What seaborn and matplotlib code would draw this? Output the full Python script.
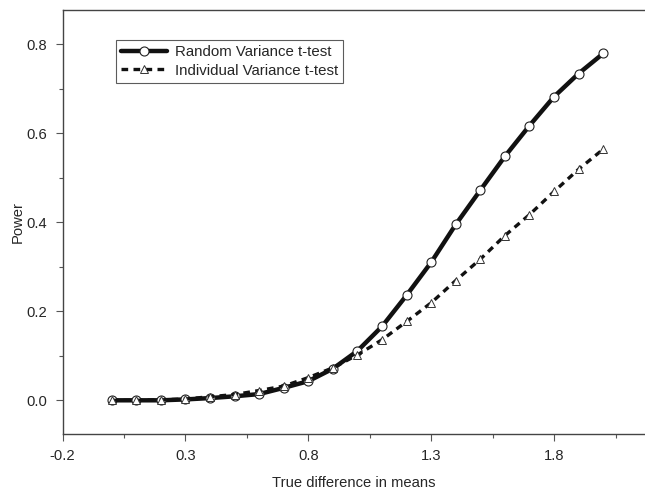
import numpy as np
import pandas as pd
import seaborn as sns
import matplotlib.pyplot as plt
from matplotlib.ticker import FixedLocator

# ── Data ───────────────────────────────────────────────────────────────────
true_diff = [0.0, 0.1, 0.2, 0.3, 0.4, 0.5, 0.6, 0.7, 0.8, 0.9, 1.0,
             1.1, 1.2, 1.3, 1.4, 1.5, 1.6, 1.7, 1.8, 1.9, 2.0]
power_random = [0.000, 0.000, 0.000, 0.002, 0.005, 0.009, 0.014, 0.028, 0.043, 0.071, 0.111,
                0.166, 0.236, 0.310, 0.395, 0.472, 0.548, 0.617, 0.682, 0.734, 0.779]
power_indiv = [0.000, 0.000, 0.001, 0.003, 0.008, 0.013, 0.022, 0.032, 0.051, 0.073, 0.102,
               0.136, 0.177, 0.219, 0.269, 0.317, 0.370, 0.417, 0.469, 0.519, 0.564]

x_ticks = [-0.2, 0.3, 0.8, 1.3, 1.8]
y_ticks = [0.0, 0.2, 0.4, 0.6, 0.8]

df = pd.DataFrame({
    "diff": true_diff,
    "random": power_random,
    "indiv": power_indiv,
})

sns.set_style("ticks")
plt.rcParams["font.family"] = ["Liberation Sans", "DejaVu Sans"]

fig = plt.figure(figsize=(6.45, 4.9), dpi=100)
ax = fig.add_axes([0.097, 0.114, 0.903, 0.865])

sns.lineplot(data=df, x="diff", y="random", ax=ax, color="#111111", linewidth=3.2,
             marker="o", markersize=6.5, markerfacecolor="white",
             markeredgecolor="#222222", markeredgewidth=0.8,
             label="Random Variance t-test")
sns.lineplot(data=df, x="diff", y="indiv", ax=ax, color="#111111", linewidth=2.4,
             linestyle=(0, (2.0, 1.6)),
             marker="^", markersize=6, markerfacecolor="white",
             markeredgecolor="#333333", markeredgewidth=0.7,
             label="Individual Variance t-test")

ax.set_xlim(-0.2, 2.17)
ax.set_ylim(-0.076, 0.876)
ax.xaxis.set_major_locator(FixedLocator(x_ticks))
ax.xaxis.set_minor_locator(FixedLocator([0.05, 0.55, 1.05, 1.55, 2.05]))
ax.yaxis.set_major_locator(FixedLocator(y_ticks))
ax.yaxis.set_minor_locator(FixedLocator([0.1, 0.3, 0.5, 0.7]))
ax.set_xticklabels([f"{t:.1f}" for t in x_ticks])
ax.set_yticklabels([f"{t:.1f}" for t in y_ticks])

ax.tick_params(which="major", direction="out", length=5, width=0.8, color="#555555",
               labelsize=10.6, pad=6)
ax.tick_params(which="minor", direction="out", length=3, width=0.8, color="#555555")

for side in ["left", "bottom", "top"]:
    ax.spines[side].set_color("#444444")
    ax.spines[side].set_linewidth(1.0)
ax.spines["right"].set_visible(False)

ax.set_xlabel("True difference in means", fontsize=10.6, labelpad=9)
ax.set_ylabel("Power", fontsize=10.6, labelpad=1)

leg = ax.legend(loc="upper left", bbox_to_anchor=(0.091, 0.93), borderaxespad=0,
                fontsize=10.8, handlelength=3.1, handletextpad=0.5, labelspacing=0.3,
                borderpad=0.35, frameon=True, fancybox=False, numpoints=1)
leg.get_frame().set_edgecolor("#333333")
leg.get_frame().set_linewidth(0.8)

fig.savefig("out.png", dpi=100)
